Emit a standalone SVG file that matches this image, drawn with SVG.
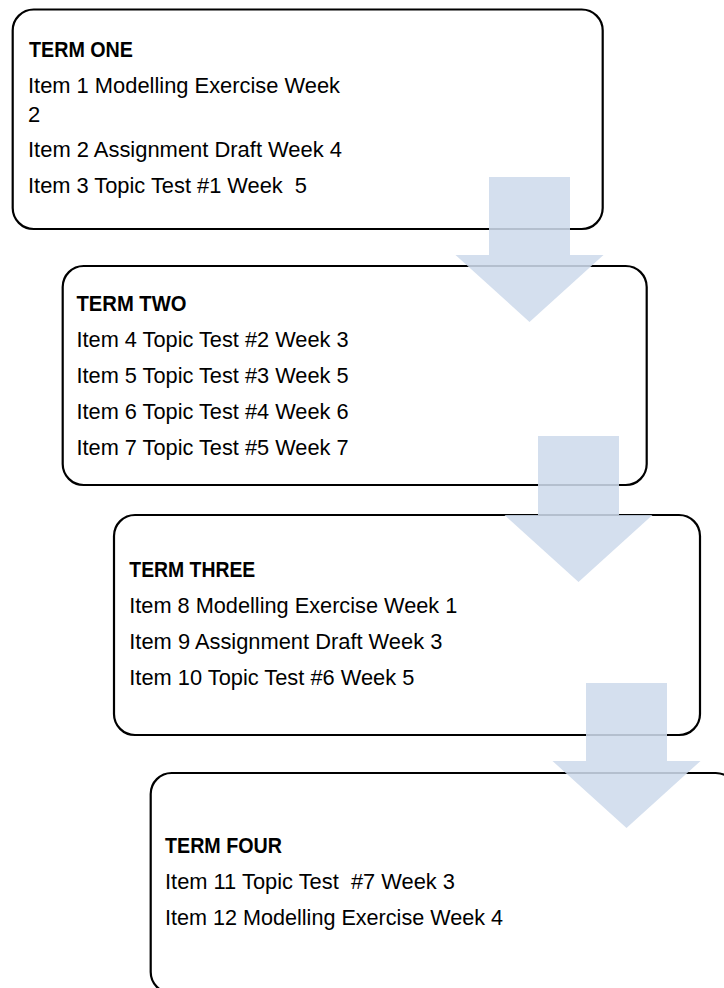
<svg xmlns="http://www.w3.org/2000/svg" width="724" height="988" viewBox="0 0 724 988">
  <style>
    .box { fill: #ffffff; stroke: #000000; stroke-width: 2.2; }
    .arrow { fill: #cedaeb; fill-opacity: 0.875; stroke: none; }
    text { font-family: "Liberation Sans", Arial, sans-serif; font-size: 22px; fill: #000000; }
    .head { font-weight: bold; }
  </style>
  <rect width="724" height="988" fill="#ffffff"/>

  <!-- Term boxes -->
  <g id="term-one">
    <rect class="box" x="12.7" y="9.5" width="590" height="219.5" rx="21"/>
    <text class="head" x="29" y="57" textLength="104" lengthAdjust="spacingAndGlyphs">TERM ONE</text>
    <text x="28" y="93" textLength="312" lengthAdjust="spacingAndGlyphs">Item 1 Modelling Exercise Week</text>
    <text x="28" y="122">2</text>
    <text x="28" y="157" textLength="314" lengthAdjust="spacingAndGlyphs">Item 2 Assignment Draft Week 4</text>
    <text x="28" y="193" textLength="279" lengthAdjust="spacingAndGlyphs" xml:space="preserve">Item 3 Topic Test #1 Week  5</text>
  </g>

  <g id="term-two">
    <rect class="box" x="62.7" y="266" width="584" height="219" rx="21"/>
    <text class="head" x="76.5" y="311" textLength="110" lengthAdjust="spacingAndGlyphs">TERM TWO</text>
    <text x="76.5" y="347" textLength="272" lengthAdjust="spacingAndGlyphs">Item 4 Topic Test #2 Week 3</text>
    <text x="76.5" y="383" textLength="272" lengthAdjust="spacingAndGlyphs">Item 5 Topic Test #3 Week 5</text>
    <text x="76.5" y="419" textLength="272" lengthAdjust="spacingAndGlyphs">Item 6 Topic Test #4 Week 6</text>
    <text x="76.5" y="455" textLength="272" lengthAdjust="spacingAndGlyphs">Item 7 Topic Test #5 Week 7</text>
  </g>

  <g id="term-three">
    <rect class="box" x="114" y="515" width="586" height="220" rx="21"/>
    <text class="head" x="129.3" y="577" textLength="126" lengthAdjust="spacingAndGlyphs">TERM THREE</text>
    <text x="129.3" y="613" textLength="328" lengthAdjust="spacingAndGlyphs">Item 8 Modelling Exercise Week 1</text>
    <text x="129.3" y="649" textLength="313" lengthAdjust="spacingAndGlyphs">Item 9 Assignment Draft Week 3</text>
    <text x="129.3" y="685" textLength="285" lengthAdjust="spacingAndGlyphs">Item 10 Topic Test #6 Week 5</text>
  </g>

  <g id="term-four">
    <rect class="box" x="150.7" y="773" width="586" height="220" rx="21"/>
    <text class="head" x="165" y="853" textLength="117" lengthAdjust="spacingAndGlyphs">TERM FOUR</text>
    <text x="165" y="889" textLength="290" lengthAdjust="spacingAndGlyphs" xml:space="preserve">Item 11 Topic Test  #7 Week 3</text>
    <text x="165" y="925" textLength="338" lengthAdjust="spacingAndGlyphs">Item 12 Modelling Exercise Week 4</text>
  </g>

  <!-- Block arrows between terms (translucent, drawn over the box borders) -->
  <g id="connectors">
    <polygon class="arrow" points="489,177 570,177 570,255 603.5,255 529.5,322 455.5,255 489,255"/>
    <polygon class="arrow" points="538,436 619,436 619,515 652.5,515 578.5,582 504.5,515 538,515"/>
    <polygon class="arrow" points="586,683 667,683 667,761 700.5,761 626.5,828 552.5,761 586,761"/>
  </g>
</svg>
